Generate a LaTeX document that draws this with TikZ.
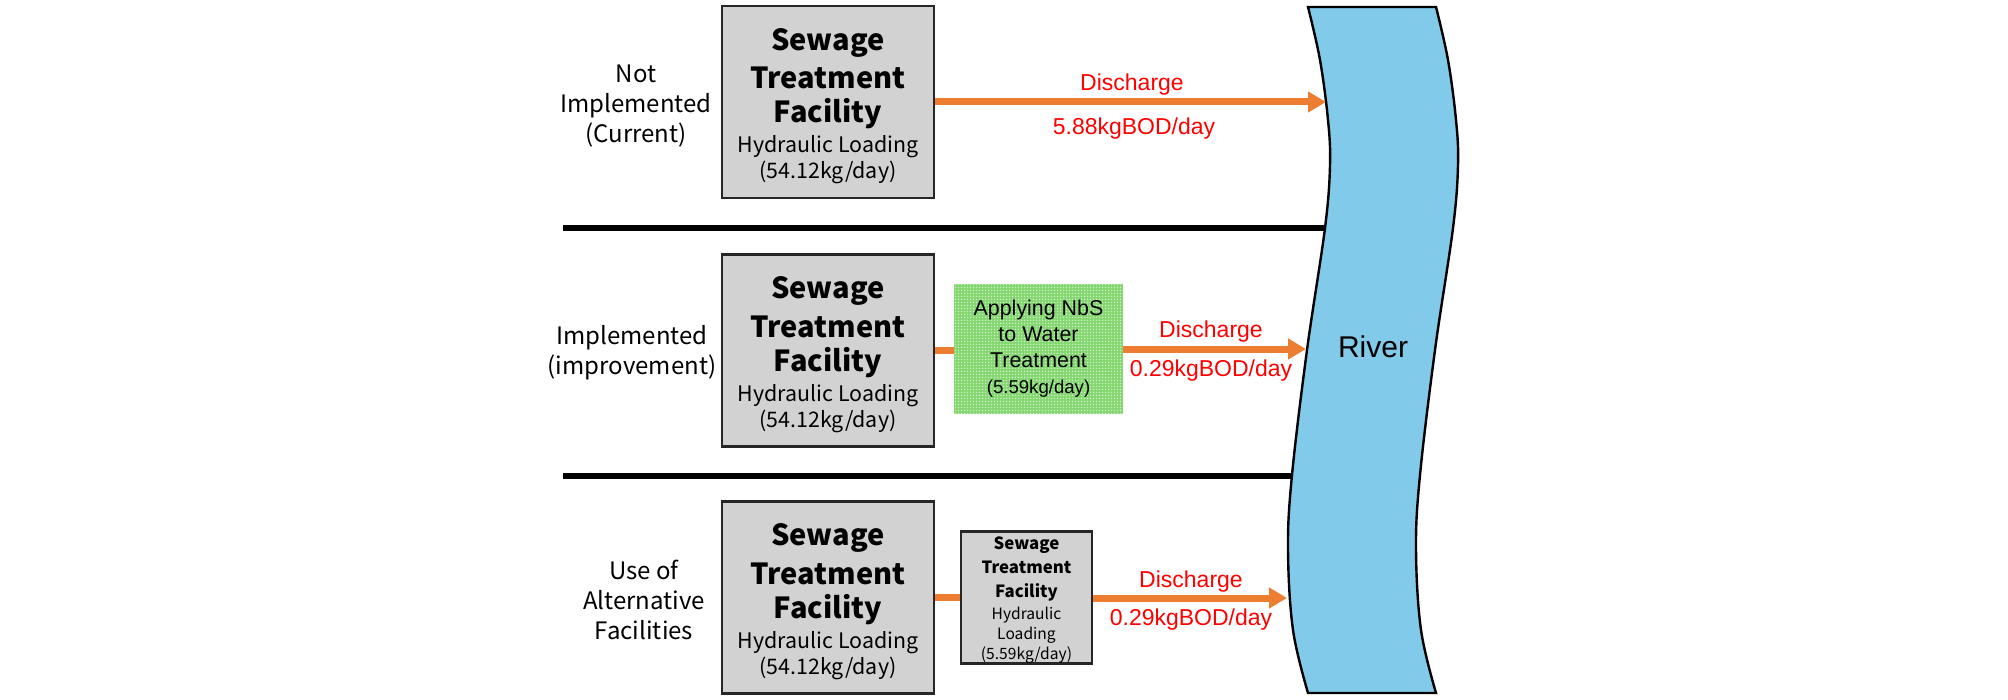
\documentclass[tikz,border=0pt]{standalone}
\usepackage{fontspec}
\setmainfont{Liberation Sans}
\newfontfamily\kr{Noto Sans CJK KR}
\usetikzlibrary{arrows.meta,patterns.meta}
\definecolor{orng}{RGB}{237,125,49}
\definecolor{rivr}{RGB}{130,202,234}
\definecolor{boxg}{RGB}{210,210,210}
\definecolor{grn}{RGB}{132,214,112}
\definecolor{grnl}{RGB}{205,240,195}
\definecolor{redt}{RGB}{255,0,0}
\newcommand\bigB{\bfseries\fontsize{14.5pt}{17pt}\selectfont}
\newcommand\smB{\bfseries\fontsize{8.4pt}{11pt}\selectfont}
\tikzdeclarepattern{name=finedots, type=uncolored,
  bottom left={(-0.2pt,-0.2pt)}, top right={(1.7pt,1.7pt)},
  tile size={(1.5pt,1.5pt)},
  code={\fill (0.75pt,0.75pt) circle [radius=0.38pt];}}
\begin{document}
\begin{tikzpicture}[x=0.5pt,y=-0.5pt,
  lbl/.style={font=\kr\fontsize{12pt}{15pt}\selectfont, align=center},
  bigbox/.style={draw=black!85, line width=1.25pt, fill=boxg, minimum width=106pt, minimum height=96pt, inner sep=0pt, align=center, font=\kr\fontsize{10.7pt}{13pt}\selectfont},
  smbox/.style={draw=black!85, line width=1.1pt, fill=boxg, minimum width=65.5pt, minimum height=65.5pt, inner sep=0pt, align=center, font=\kr\fontsize{7.8pt}{10pt}\selectfont},
  greenbox/.style={fill=grn, postaction={pattern=finedots, pattern color=grnl}, minimum width=84.5pt, minimum height=65pt, inner sep=0pt, align=center, font=\fontsize{10.7pt}{13pt}\selectfont},
  redtxt/.style={text=redt, font=\fontsize{11.5pt}{13pt}\selectfont, anchor=base, inner sep=0pt},
  sepline/.style={line width=3pt, black},
  conn/.style={draw=orng, line width=3.5pt},
  arr/.style={draw=orng, line width=3.5pt, -{Triangle[length=9pt,width=10pt]}},
  rivershape/.style={fill=rivr, draw=black, line width=1.2pt}
]
\useasboundingbox (0,0) rectangle (2008,700);

% separators
\coordinate (s1a) at (563,228);
\coordinate (s1b) at (1328,228);
\coordinate (s2a) at (563,476);
\coordinate (s2b) at (1296,476);
\draw[sepline] (s1a) -- (s1b);
\draw[sepline] (s2a) -- (s2b);

% river
\filldraw[rivershape] plot[smooth,tension=0.6] coordinates {(1308,7) (1320,60) (1328,120) (1330,165) (1325,228) (1307,350) (1292,475) (1288,549) (1293,630) (1308,693)}
  -- plot[smooth,tension=0.6] coordinates {(1436,693) (1421,630) (1416,549) (1420,475) (1435,350) (1453,228) (1458,165) (1456,120) (1448,60) (1436,7)} -- cycle;
\node[font=\fontsize{15pt}{17pt}\selectfont] (river) at (1373,347) {River};

\coordinate (r1) at (1326,102);
\coordinate (r2) at (1306,349);
\coordinate (r3) at (1287,598);

% row labels
\node[lbl] (l1) at (636,106) {Not\\Implemented\\(Current)};
\node[lbl] (l2) at (632,353) {Implemented\\(improvement)};
\node[lbl] (l3) at (644,600) {Use of\\Alternative\\Facilities};

% big boxes
\node[bigbox] (b1) at (828,102) {{\bigB\rule{0pt}{15pt}Sewage}\\[4pt]{\bigB Treatment}\\[4pt]{\bigB Facility}\\[2pt]Hydraulic Loading\\(54.12kg/day)};
\node[bigbox] (b2) at (828,350.5) {{\bigB\rule{0pt}{15pt}Sewage}\\[4pt]{\bigB Treatment}\\[4pt]{\bigB Facility}\\[2pt]Hydraulic Loading\\(54.12kg/day)};
\node[bigbox] (b3) at (828,597.5) {{\bigB\rule{0pt}{15pt}Sewage}\\[4pt]{\bigB Treatment}\\[4pt]{\bigB Facility}\\[2pt]Hydraulic Loading\\(54.12kg/day)};

% green NbS box
\node[greenbox] (g) at (1038.5,349) {Applying NbS\\to Water\\Treatment\\{\fontsize{9.3pt}{11pt}\selectfont (5.59kg/day)}};

% small alternative box
\node[smbox] (s3) at (1026.5,597.5) {{\smB\rule{0pt}{9pt}Sewage}\\[2pt]{\smB Treatment}\\[2pt]{\smB Facility}\\[1pt]Hydraulic\\Loading\\(5.59kg/day)};

% connectors
\draw[conn] (b2.east) -- (b2.east -| g.west);
\draw[conn] (b3.east) -- (b3.east -| s3.west);
\draw[arr] (b1.east) -- (r1);
\draw[arr] (g.east |- r2) -- (r2);
\draw[arr] (s3.east |- r3) -- (r3);

% discharge labels
\node[redtxt] (d1) at (1132,91) {Discharge};
\node[redtxt] (v1) at (1134,135) {5.88kgBOD/day};
\node[redtxt] (d2) at (1211,337) {Discharge};
\node[redtxt] (v2) at (1211,376) {0.29kgBOD/day};
\node[redtxt] (d3) at (1191,587) {Discharge};
\node[redtxt] (v3) at (1191,625) {0.29kgBOD/day};
\end{tikzpicture}
\end{document}
